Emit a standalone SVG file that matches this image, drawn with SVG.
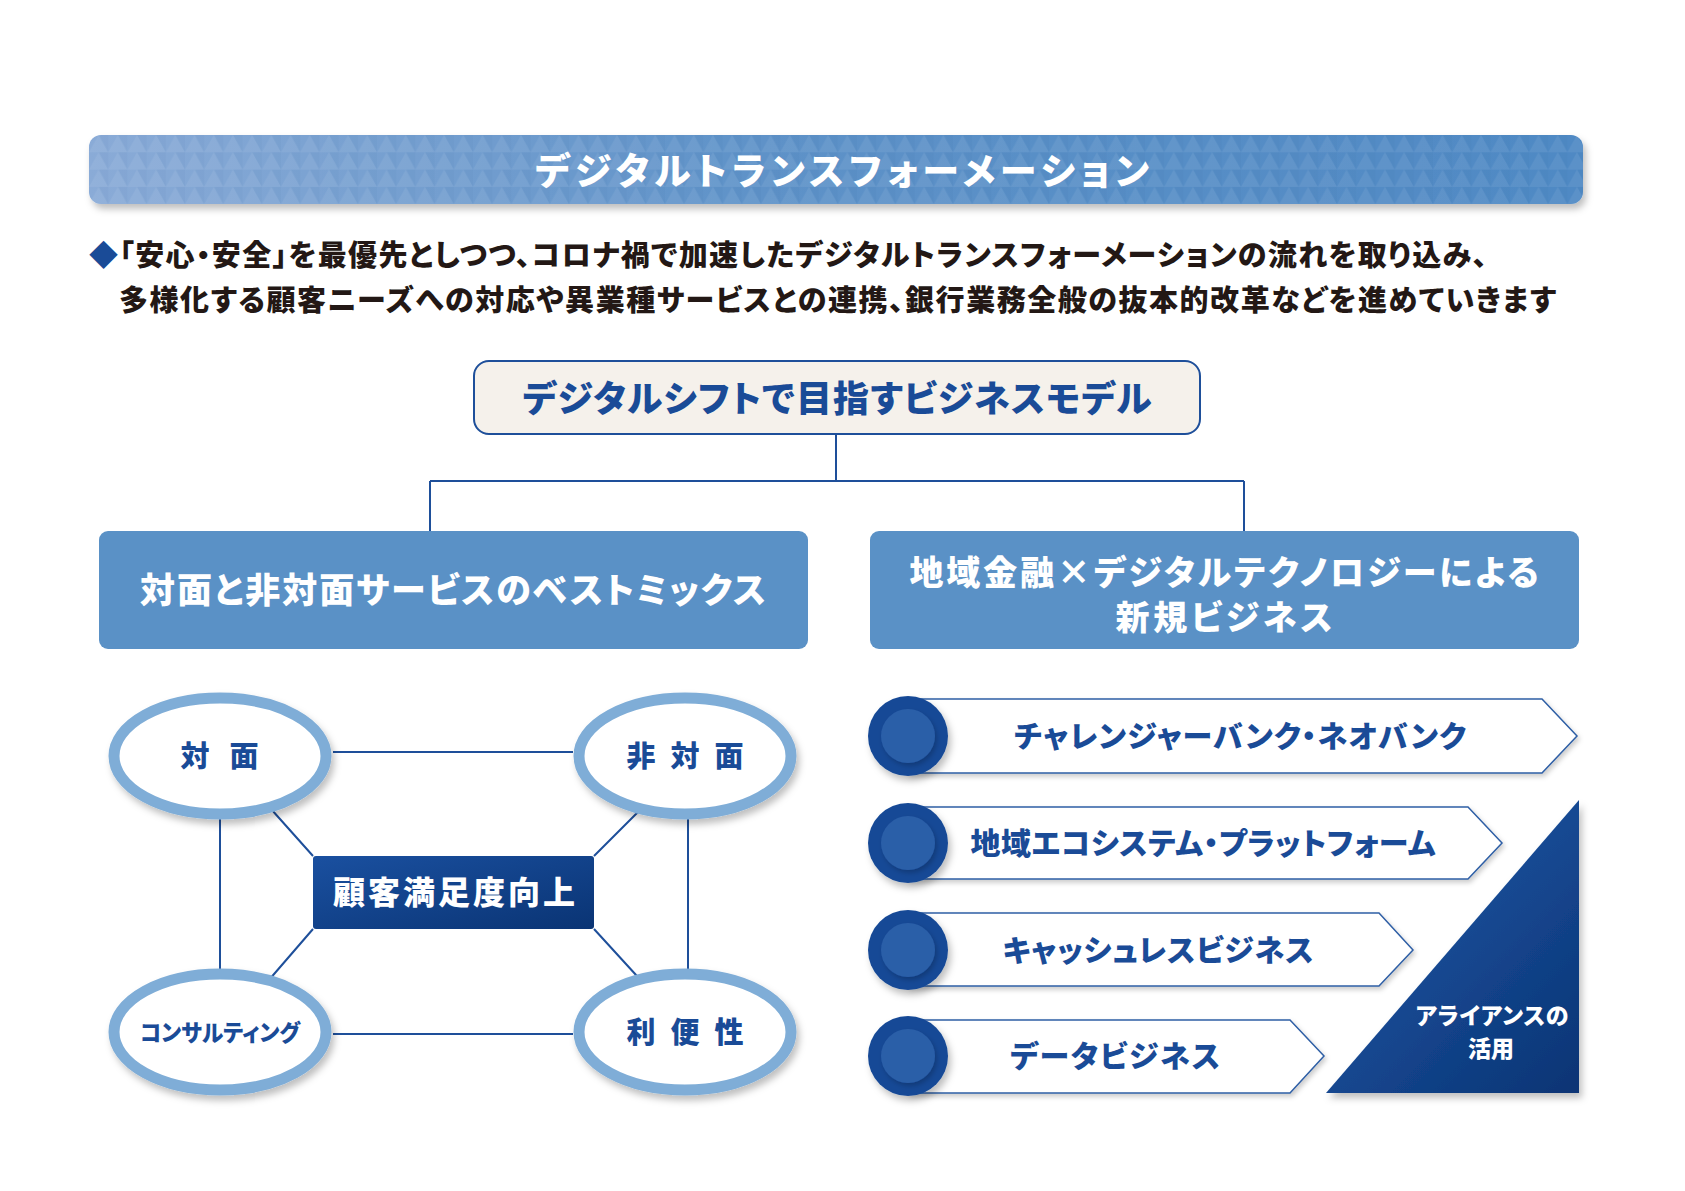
<svg xmlns="http://www.w3.org/2000/svg" width="1685" height="1191" viewBox="0 0 1685 1191">
<style>
.jp{font-family:"Noto Sans CJK JP","Noto Sans CJK SC",sans-serif;font-weight:900;font-feature-settings:"palt" 1}
.w{fill:#ffffff}
.b{fill:#1a4b97}
.d{fill:#231815}
.conn{stroke:#1e4f9a;stroke-width:2;fill:none}
.ring{fill:#ffffff;stroke:#7fadd7;stroke-width:11}
.arrow{fill:#ffffff;stroke:#2f5fa5;stroke-width:1.5}
.blue-box{fill:#5a91c6}
</style>
<defs>
<linearGradient id="bannerGrad" x1="0" y1="0" x2="1" y2="0">
<stop offset="0" stop-color="#8aabd7"/>
<stop offset="0.45" stop-color="#5e92c8"/>
<stop offset="1" stop-color="#4f89c4"/>
</linearGradient>
<pattern id="tri" width="19.2" height="17.3" patternUnits="userSpaceOnUse" x="89" y="135">
<path d="M0,17.3 L9.6,0 L19.2,17.3 Z" fill="#ffffff" fill-opacity="0.07"/>
<path d="M9.6,0 L19.2,17.3 L28.8,0 Z" fill="#1a3f7a" fill-opacity="0.04"/>
</pattern>
<linearGradient id="navyGrad" x1="0" y1="0" x2="1" y2="1">
<stop offset="0" stop-color="#1a50a0"/>
<stop offset="1" stop-color="#0a3474"/>
</linearGradient>
<linearGradient id="triGrad" x1="0.3" y1="0.2" x2="1" y2="1">
<stop offset="0" stop-color="#1b52a0"/>
<stop offset="1" stop-color="#0a3474"/>
</linearGradient>
<filter id="sh" x="-20%" y="-20%" width="150%" height="160%">
<feDropShadow dx="3" dy="5" stdDeviation="3.5" flood-color="#000000" flood-opacity="0.25"/>
</filter>
<filter id="shs" x="-20%" y="-20%" width="150%" height="160%">
<feDropShadow dx="2" dy="3" stdDeviation="2.5" flood-color="#000000" flood-opacity="0.2"/>
</filter>
</defs>
<rect width="1685" height="1191" fill="#ffffff"/>

<g id="banner">
<rect x="89" y="135" width="1494" height="69" rx="12" fill="url(#bannerGrad)" filter="url(#sh)"/>
<rect x="89" y="135" width="1494" height="69" rx="12" fill="url(#tri)"/>
<text class="jp w" x="842" y="169" font-size="37" text-anchor="middle" dominant-baseline="central" textLength="614" lengthAdjust="spacing">デジタルトランスフォーメーション</text>
</g>

<g id="intro">
<text class="jp d" x="89" y="253" font-size="29" dominant-baseline="central" textLength="1398" lengthAdjust="spacing"><tspan class="b">◆</tspan>「安心・安全」を最優先としつつ、コロナ禍で加速したデジタルトランスフォーメーションの流れを取り込み、</text>
<text class="jp d" x="119" y="298" font-size="29" dominant-baseline="central" textLength="1437" lengthAdjust="spacing">多様化する顧客ニーズへの対応や異業種サービスとの連携、銀行業務全般の抜本的改革などを進めていきます</text>
</g>

<g id="connectors">
<path class="conn" d="M836,434 V481 M430,481 H1244 M430,481 V531 M1244,481 V531"/>
<path class="conn" d="M333,752 H573 M333,1034 H573 M220,756 V1032 M688,756 V1032"/>
<path class="conn" d="M313,856 L263,800 M594,856 L650,800 M313,929 L262,988 M594,929 L647,987"/>
</g>

<g id="model-title">
<rect x="474" y="361" width="726" height="73" rx="15" fill="#f5f1eb" stroke="#1e4f9a" stroke-width="2"/>
<text class="jp b" x="837" y="396" font-size="36" text-anchor="middle" dominant-baseline="central" textLength="629" lengthAdjust="spacing">デジタルシフトで目指すビジネスモデル</text>
</g>

<g id="left-head">
<rect class="blue-box" x="99" y="531" width="709" height="118" rx="9"/>
<text class="jp w" x="453" y="587" font-size="35" text-anchor="middle" dominant-baseline="central" textLength="626" lengthAdjust="spacing">対面と非対面サービスのベストミックス</text>
</g>

<g id="right-head">
<rect class="blue-box" x="870" y="531" width="709" height="118" rx="9"/>
<text class="jp w" x="1224" y="570" font-size="34" text-anchor="middle" dominant-baseline="central" textLength="629" lengthAdjust="spacing">地域金融×デジタルテクノロジーによる</text>
<text class="jp w" x="1224" y="615" font-size="34" text-anchor="middle" dominant-baseline="central" textLength="217" lengthAdjust="spacing">新規ビジネス</text>
</g>

<g id="face">
<ellipse class="ring" cx="220" cy="756" rx="106" ry="58" filter="url(#sh)"/>
<text class="jp b" x="195 244" y="754" font-size="29" text-anchor="middle" dominant-baseline="central">対面</text>
</g>
<g id="non-face">
<ellipse class="ring" cx="685" cy="756" rx="106" ry="58" filter="url(#sh)"/>
<text class="jp b" x="641 685 729" y="754" font-size="29" text-anchor="middle" dominant-baseline="central">非対面</text>
</g>
<g id="consulting">
<ellipse class="ring" cx="220" cy="1032" rx="106" ry="58" filter="url(#sh)"/>
<text class="jp b" x="220" y="1031" font-size="23" text-anchor="middle" dominant-baseline="central" textLength="160" lengthAdjust="spacingAndGlyphs">コンサルティング</text>
</g>
<g id="convenience">
<ellipse class="ring" cx="685" cy="1032" rx="106" ry="58" filter="url(#sh)"/>
<text class="jp b" x="641 685 729" y="1030" font-size="29" text-anchor="middle" dominant-baseline="central">利便性</text>
</g>
<g id="satisfaction">
<rect x="313" y="856" width="281" height="73" rx="3" fill="url(#navyGrad)"/>
<text class="jp w" x="454" y="890" font-size="32" text-anchor="middle" dominant-baseline="central" textLength="242" lengthAdjust="spacing" font-weight="700">顧客満足度向上</text>
</g>

<g id="item1">
<path class="arrow" d="M908,699 H1542 L1577,736 L1542,773 H908 Z" filter="url(#shs)"/>
<circle cx="908" cy="736" r="40" fill="#174a96" filter="url(#sh)"/>
<circle cx="908" cy="736" r="27" fill="#2a5ea8" filter="url(#shs)"/>
<text class="jp b" x="1240" y="734" font-size="30" text-anchor="middle" dominant-baseline="central" textLength="452" lengthAdjust="spacing">チャレンジャーバンク・ネオバンク</text>
</g>
<g id="item2">
<path class="arrow" d="M908,807 H1468 L1502,843 L1468,879 H908 Z" filter="url(#shs)"/>
<circle cx="908" cy="843" r="40" fill="#174a96" filter="url(#sh)"/>
<circle cx="908" cy="843" r="27" fill="#2a5ea8" filter="url(#shs)"/>
<text class="jp b" x="1203" y="841" font-size="30" text-anchor="middle" dominant-baseline="central" textLength="465" lengthAdjust="spacing">地域エコシステム・プラットフォーム</text>
</g>
<g id="item3">
<path class="arrow" d="M908,913 H1379 L1413,950 L1379,986 H908 Z" filter="url(#shs)"/>
<circle cx="908" cy="950" r="40" fill="#174a96" filter="url(#sh)"/>
<circle cx="908" cy="950" r="27" fill="#2a5ea8" filter="url(#shs)"/>
<text class="jp b" x="1158" y="948" font-size="30" text-anchor="middle" dominant-baseline="central" textLength="311" lengthAdjust="spacing">キャッシュレスビジネス</text>
</g>
<g id="item4">
<path class="arrow" d="M908,1020 H1290 L1324,1056 L1290,1093 H908 Z" filter="url(#shs)"/>
<circle cx="908" cy="1056" r="40" fill="#174a96" filter="url(#sh)"/>
<circle cx="908" cy="1056" r="27" fill="#2a5ea8" filter="url(#shs)"/>
<text class="jp b" x="1115" y="1054" font-size="30" text-anchor="middle" dominant-baseline="central" textLength="210" lengthAdjust="spacing">データビジネス</text>
</g>

<g id="alliance">
<path d="M1326,1093 L1579,800 L1579,1093 Z" fill="url(#triGrad)" filter="url(#sh)"/>
<text class="jp w" x="1492" y="1014" font-size="23" text-anchor="middle" dominant-baseline="central" textLength="153" lengthAdjust="spacing">アライアンスの</text>
<text class="jp w" x="1491" y="1047" font-size="23" text-anchor="middle" dominant-baseline="central">活用</text>
</g>
</svg>
